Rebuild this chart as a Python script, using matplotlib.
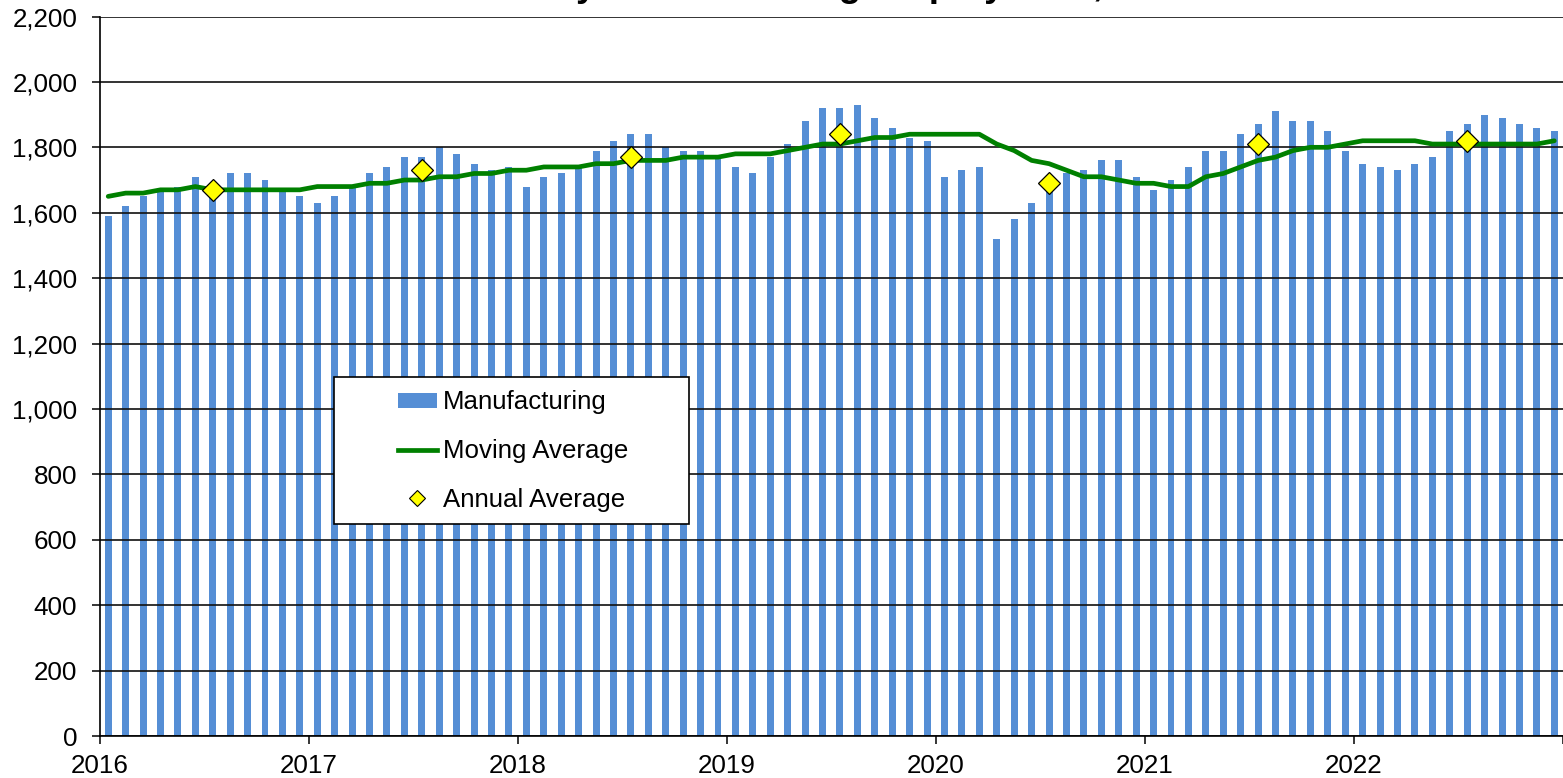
import numpy as np
import matplotlib
matplotlib.use("Agg")
import matplotlib.pyplot as plt
from matplotlib.lines import Line2D
from matplotlib.patches import Patch, Rectangle
from matplotlib.ticker import FuncFormatter

# ---------------- data ----------------
years = ["2016", "2017", "2018", "2019", "2020", "2021", "2022"]

manufacturing = [
    1590, 1620, 1650, 1665, 1680, 1710, 1670, 1720, 1720, 1700, 1665, 1650,  # 2016
    1630, 1650, 1680, 1720, 1740, 1770, 1770, 1800, 1780, 1750, 1730, 1740,  # 2017
    1680, 1710, 1720, 1740, 1790, 1820, 1840, 1840, 1800, 1790, 1790, 1770,  # 2018
    1740, 1720, 1770, 1810, 1880, 1920, 1920, 1930, 1890, 1860, 1830, 1820,  # 2019
    1710, 1730, 1740, 1520, 1580, 1630, 1690, 1720, 1730, 1760, 1760, 1710,  # 2020
    1670, 1700, 1740, 1790, 1790, 1840, 1870, 1910, 1880, 1880, 1850, 1790,  # 2021
    1750, 1740, 1730, 1750, 1770, 1850, 1870, 1900, 1890, 1870, 1860, 1850,  # 2022
]

moving_average = [
    1650, 1660, 1660, 1670, 1670, 1680, 1670, 1670, 1670, 1670, 1670, 1670,
    1680, 1680, 1680, 1690, 1690, 1700, 1700, 1710, 1710, 1720, 1720, 1730,
    1730, 1740, 1740, 1740, 1750, 1750, 1760, 1760, 1760, 1770, 1770, 1770,
    1780, 1780, 1780, 1790, 1800, 1810, 1810, 1820, 1830, 1830, 1840, 1840,
    1840, 1840, 1840, 1810, 1790, 1760, 1750, 1730, 1710, 1710, 1700, 1690,
    1690, 1680, 1680, 1710, 1720, 1740, 1760, 1770, 1790, 1800, 1800, 1810,
    1820, 1820, 1820, 1820, 1810, 1810, 1810, 1810, 1810, 1810, 1810, 1820,
]

annual_average = [1670, 1730, 1770, 1840, 1690, 1810, 1820]

title_text = "Monthly Manufacturing Employment, 2016-2022"

# ---------------- figure ----------------
W, H, DPI = 1563, 778, 100
fig = plt.figure(figsize=(W / DPI, H / DPI), dpi=DPI)
plt.rcParams["font.family"] = ["Liberation Sans", "DejaVu Sans"]

ax_left, ax_right = 99.5, 1563.0
ax_top, ax_bottom = 16.5, 736.0
ax = fig.add_axes([ax_left / W, 1 - ax_bottom / H,
                   (ax_right - ax_left) / W, (ax_bottom - ax_top) / H])

n = len(manufacturing)
x = np.arange(n) + 0.5
bar_color = "#558ED5"

ax.bar(x, manufacturing, width=0.4, color=bar_color, zorder=1)
ax.plot(x, moving_average, color="#008000", lw=3.4, solid_capstyle="round",
        zorder=3)
ann_x = np.arange(len(annual_average)) * 12 + 6.5
ax.plot(ann_x, annual_average, linestyle="none", marker="D", markersize=11.5,
        markerfacecolor="#FFFF00", markeredgecolor="black",
        markeredgewidth=0.9, zorder=4)

ax.set_xlim(0, n)
ax.set_ylim(0, 2200)
ax.set_yticks(np.arange(0, 2201, 200))
ax.yaxis.set_major_formatter(FuncFormatter(lambda v, p: f"{int(v):,}"))
ax.set_xticks(np.arange(0, n + 1, 12))
ax.set_xticklabels(years + [""])

ax.grid(axis="y", color="#111111", linewidth=1.2)
ax.set_axisbelow(False)
for gl in ax.get_ygridlines():
    gl.set_zorder(2)

for side in ("top", "right"):
    ax.spines[side].set_visible(False)
for side in ("left", "bottom"):
    ax.spines[side].set_color("black")
    ax.spines[side].set_linewidth(1.2)
    ax.spines[side].set_zorder(5)

ax.tick_params(axis="y", direction="out", length=6, width=1.1, pad=10,
               labelsize=18.7, color="black")
ax.tick_params(axis="x", direction="out", length=6, width=1.1, pad=7,
               labelsize=18.7, color="black")

# legend frame
fx0 = (334 - ax_left) / (ax_right - ax_left)
fx1 = (689 - ax_left) / (ax_right - ax_left)
fy0 = (ax_bottom - 524) / (ax_bottom - ax_top)
fy1 = (ax_bottom - 377) / (ax_bottom - ax_top)
ax.add_patch(Rectangle((fx0, fy0), fx1 - fx0, fy1 - fy0, transform=ax.transAxes,
                       facecolor="white", edgecolor="black", linewidth=1.2,
                       zorder=10, clip_on=False))

handles = [
    Patch(facecolor=bar_color, edgecolor="none"),
    Line2D([], [], color="#008000", lw=3.4),
    Line2D([], [], linestyle="none", marker="D", markersize=8.5,
           markerfacecolor="#FFFF00", markeredgecolor="black",
           markeredgewidth=0.8),
]
labels = ["Manufacturing", "Moving Average", "Annual Average"]
cx = (513 - ax_left) / (ax_right - ax_left)
cy = (ax_bottom - 451) / (ax_bottom - ax_top)
leg = ax.legend(handles, labels, loc="center", bbox_to_anchor=(cx, cy),
                frameon=False, fontsize=18.6, handlelength=1.5,
                handleheight=0.55, handletextpad=0.25, labelspacing=0.95,
                borderpad=0.0)
leg.set_zorder(11)

# title (mostly above the visible area, as in the reference)
fig.text(455 / W, 1 + 3.8 / H, title_text, ha="left", va="baseline",
         fontsize=26.6, fontweight="bold")

fig.savefig("out.png", dpi=DPI)
